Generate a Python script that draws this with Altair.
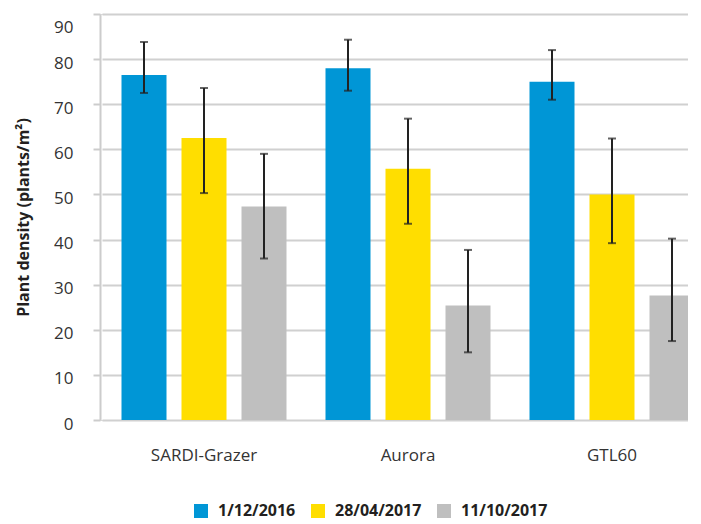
import altair as alt
import pandas as pd

cultivars = ["SARDI-Grazer", "Aurora", "GTL60"]
dates = ["1/12/2016", "28/04/2017", "11/10/2017"]
colors = ["#0096d6", "#ffde00", "#bfbfbf"]

mean_d1 = [76.5, 78.0, 75.0]
mean_d2 = [62.5, 55.7, 50.0]
mean_d3 = [47.3, 25.4, 27.6]

low_d1 = [72.5, 73.0, 71.0]
low_d2 = [50.3, 43.5, 39.2]
low_d3 = [35.8, 15.0, 17.5]

high_d1 = [83.8, 84.3, 82.0]
high_d2 = [73.6, 66.8, 62.4]
high_d3 = [59.0, 37.7, 40.2]

means = [mean_d1, mean_d2, mean_d3]
lows = [low_d1, low_d2, low_d3]
highs = [high_d1, high_d2, high_d3]

rows = []
for i, c in enumerate(cultivars):
    for j, d in enumerate(dates):
        rows.append({"cultivar": c, "date": d, "mean": means[j][i],
                     "lo": lows[j][i], "hi": highs[j][i]})
df = pd.DataFrame(rows)

FONT = "Open Sans"

x = alt.X("cultivar:N", sort=cultivars,
          scale=alt.Scale(range=[2, 614], paddingInner=0, paddingOuter=0),
          axis=alt.Axis(title=None, domain=False, ticks=False, labelAngle=0,
                        labelPadding=27, labelFontSize=17, labelColor="#333333",
                        labelFont=FONT, grid=False))
xo = alt.XOffset("date:N", sort=dates,
                 scale=alt.Scale(paddingInner=0.25, paddingOuter=0.325))
yscale = alt.Scale(domain=[0, 90], nice=False)

bars = alt.Chart(df).mark_bar(clip=True).encode(
    x=x,
    xOffset=xo,
    y=alt.Y("mean:Q", scale=yscale,
            axis=alt.Axis(title="Plant density (plants/m²)", values=list(range(0, 100, 10)),
                          titleFont=FONT, titleFontSize=16, titleFontWeight="bold",
                          titleColor="#231f20", titlePadding=22,
                          labelFont=FONT, labelFontSize=17, labelColor="#333333",
                          labelPadding=20,
                          labelOffset={"condition": {"test": "datum.value === 90", "value": 13},
                                       "value": 4},
                          domainColor="#cccccc", domainWidth=2,
                          tickColor="#cccccc", tickSize=7, tickWidth=2,
                          gridColor="#d0d0d0", gridWidth=2)),
    color=alt.Color("date:N", sort=dates,
                    scale=alt.Scale(domain=dates, range=colors),
                    legend=alt.Legend(title=None, orient="none", direction="horizontal",
                                      legendX=93, legendY=489,
                                      symbolType="square", symbolSize=196,
                                      symbolStrokeWidth=0, labelOffset=9,
                                      columnPadding=14, labelFont=FONT,
                                      labelFontSize=16, labelFontWeight="bold",
                                      labelColor="#231f20")),
)

err = alt.Chart(df).mark_rule(color="#222222", strokeWidth=2, clip=True).encode(
    x=x, xOffset=xo, y="lo:Q", y2="hi:Q"
)
cap_lo = alt.Chart(df).mark_tick(color="#222222", thickness=2, size=8, clip=True).encode(
    x=x, xOffset=xo, y="lo:Q"
)
cap_hi = alt.Chart(df).mark_tick(color="#222222", thickness=2, size=8, clip=True).encode(
    x=x, xOffset=xo, y="hi:Q"
)

chart = alt.layer(bars, err, cap_lo, cap_hi).properties(
    width=588, height=406,
    autosize=alt.AutoSizeParams(type="none"),
    padding={"left": 92, "top": 6, "right": 0, "bottom": 100},
).configure_view(stroke=None).configure(background="white")

chart.save("out.html", embed_options={"renderer": "svg", "actions": False})
